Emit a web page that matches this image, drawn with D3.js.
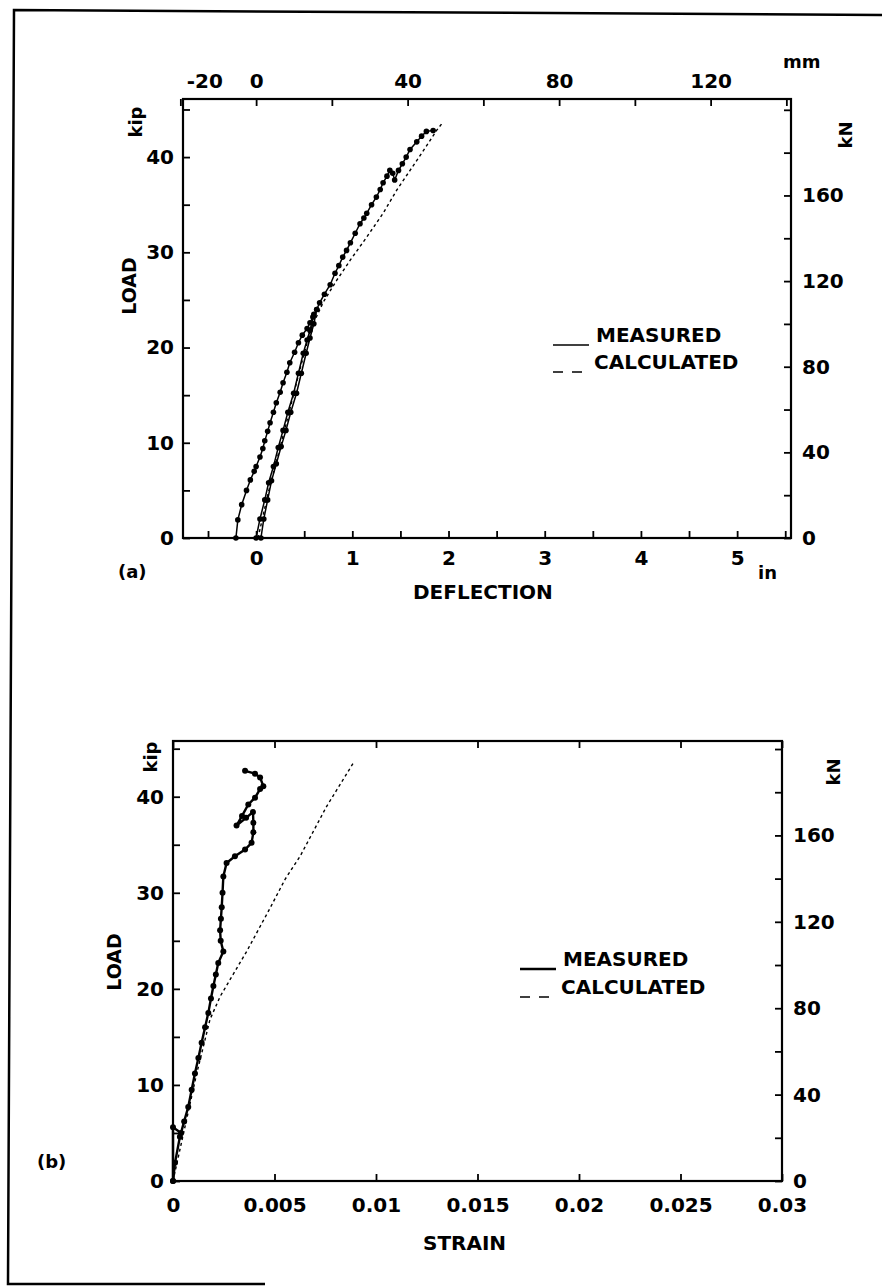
<!DOCTYPE html>
<html>
<head>
<meta charset="utf-8">
<script src="https://cdn.jsdelivr.net/npm/d3@7"></script>
<style>
  body { margin: 0; background: #fff; }
  svg { display: block; }
  text { font-family: 'DejaVu Sans', sans-serif; font-weight: bold; fill: #000; }
</style>
</head>
<body>
<svg id="fig" width="882" height="1286"></svg>
<script>
// data, load in kip

// (a) load vs deflection (in)
var deflMeasuredMain = [[-0.21,0],[-0.19,1.9],[-0.15,3.5],[-0.1,5],[-0.06,6.1],[-0.02,7],[0,7.5],[0.04,8.5],[0.07,9.4],[0.09,10.2],[0.12,11.2],[0.145,12.1],[0.18,13.2],[0.21,14.2],[0.25,15.3],[0.28,16.3],[0.32,17.4],[0.35,18.4],[0.4,19.5],[0.44,20.5],[0.48,21.3],[0.53,22],[0.56,22.6],[0.59,23.2],[0.63,24],[0.66,24.7],[0.71,25.6],[0.77,26.6],[0.82,27.8],[0.86,28.6],[0.9,29.5],[0.94,30.2],[0.98,31],[1.03,32],[1.08,33],[1.12,33.6],[1.15,34.1],[1.2,35],[1.25,35.8],[1.29,36.6],[1.32,37.3],[1.36,38],[1.39,38.6],[1.42,38.3],[1.44,37.6],[1.48,38.6],[1.52,39.3],[1.56,40],[1.6,40.8],[1.67,41.6],[1.72,42.2],[1.77,42.7],[1.84,42.8]];
var deflMeasuredUp = [[0.05,0],[0.08,2],[0.12,4],[0.16,6],[0.21,7.8],[0.26,9.6],[0.31,11.3],[0.36,13.2],[0.42,15.2],[0.47,17.3],[0.52,19.4],[0.56,21],[0.6,22.5],[0.63,24]];
var deflMeasuredDown = [[0,0],[0.04,2],[0.09,4],[0.13,5.8],[0.18,7.5],[0.23,9.5],[0.28,11.3],[0.33,13.2],[0.39,15.2],[0.44,17.3],[0.49,19.4],[0.53,20.8],[0.56,21.8],[0.6,23.5]];
var deflCalculated = [[0.02,0],[0.12,4.5],[0.3,11.5],[0.45,17.5],[0.57,22],[0.7,24.8],[0.84,27.1],[0.98,29.2],[1.15,31.6],[1.32,34.1],[1.46,36.5],[1.6,38.6],[1.74,40.7],[1.876,42.8],[1.945,43.7]];

// (b) load vs strain
var strainMeasured = [[0,0],[0.0001,1.9],[0.00034,4.6],[0.00055,6.2],[0.00075,7.7],[0.00092,9.5],[0.00108,11.2],[0.00125,12.8],[0.00141,14.4],[0.00158,16],[0.00174,17.5],[0.00187,19],[0.00199,20.3],[0.00211,21.5],[0.00223,22.7],[0.00248,23.9],[0.00235,25],[0.00232,26.1],[0.00236,27.3],[0.0024,28.5],[0.00244,30],[0.00248,31.7],[0.00264,33.1],[0.00305,33.8],[0.00355,34.5],[0.00387,35.2],[0.00396,36.3],[0.00396,37.3],[0.00394,38.4],[0.0036,37.8],[0.00313,37],[0.0034,38],[0.00371,39.2],[0.00404,39.9],[0.00429,40.8],[0.00445,41.1],[0.00429,42],[0.00404,42.4],[0.00355,42.7]];
var strainMeasuredSpur = [[0,0],[0,5.6],[0.0004,5]];
var strainCalculated = [[0,0],[0.00117,11.2],[0.00182,16.8],[0.00232,19.2],[0.00363,23.9],[0.00478,28.4],[0.00552,31.4],[0.00626,33.8],[0.00757,39],[0.00888,43.5]];

// ticks and labels
var loadTicks = [0,5,10,15,20,25,30,35,40,45];
var loadLabels = [0,10,20,30,40];
var kNTicks = [0,20,40,60,80,100,120,140,160,180,200];
var kNLabels = [0,40,80,120,160];
var inchTicks = [-0.5,0,0.5,1,1.5,2,2.5,3,3.5,4,4.5,5,5.5];
var inchLabels = [0,1,2,3,4,5];
var mmTicks = [-20,0,20,40,60,80,100,120,140];
var mmLabels = [-20,0,40,80,120];
var strainTicks = [0,0.005,0.01,0.015,0.02,0.025,0.03];
var strainLabels = ["0","0.005","0.01","0.015","0.02","0.025","0.03"];
var legendNames = ["MEASURED","CALCULATED"];

var KN_PER_KIP = 4.448;
var MM_PER_IN = 25.4;

var svg = d3.select("#fig");

// scanned page border
var border = d3.path();
border.moveTo(882, 15); border.lineTo(14, 10); border.lineTo(8, 1284); border.lineTo(265, 1284);
svg.append("path").attr("d", border.toString()).attr("fill", "none").attr("stroke", "#000").attr("stroke-width", 2.5);

function styleAxis(g, fontSize){
    g.select(".domain").remove();
    g.selectAll(".tick line").attr("stroke", "#000").attr("stroke-width", 1.8);
    g.selectAll(".tick text").attr("font-size", fontSize).attr("fill", "#000");
    g.attr("font-family", null);
}

function drawPanel(cfg){
    var x = d3.scaleLinear().domain(cfg.xDomain).range([cfg.left, cfg.right]);
    var y = d3.scaleLinear().domain(cfg.yDomain).range([cfg.bottom, cfg.top]);
    var yKN = d3.scaleLinear().domain(cfg.yDomain.map(d => d * KN_PER_KIP)).range([cfg.bottom, cfg.top]);
    var g = svg.append("g");

    // frame
    g.append("rect")
        .attr("x", cfg.left).attr("y", cfg.top)
        .attr("width", cfg.right - cfg.left).attr("height", cfg.bottom - cfg.top)
        .attr("fill", "none").attr("stroke", "#000").attr("stroke-width", 2.2);

    // left: kip
    g.append("g").attr("transform", "translate(" + cfg.left + ",0)")
        .call(d3.axisLeft(y).tickValues(loadTicks).tickSizeInner(-7).tickSizeOuter(0).tickPadding(9)
            .tickFormat(d => loadLabels.includes(d) ? d : ""))
        .call(s => styleAxis(s, 20));

    // right: kN
    g.append("g").attr("transform", "translate(" + cfg.right + ",0)")
        .call(d3.axisRight(yKN).tickValues(kNTicks).tickSizeInner(-7).tickSizeOuter(0).tickPadding(11)
            .tickFormat(d => kNLabels.includes(d) ? d : ""))
        .call(s => styleAxis(s, 20));

    // bottom
    g.append("g").attr("transform", "translate(0," + cfg.bottom + ")")
        .call(d3.axisBottom(x).tickValues(cfg.xTicks).tickSizeInner(-7).tickSizeOuter(0).tickPadding(cfg.xPad)
            .tickFormat(cfg.xFormat))
        .call(s => styleAxis(s, 20));

    // top
    var topAxis = g.append("g").attr("transform", "translate(0," + cfg.top + ")");
    if (cfg.mm) {
        var xmm = d3.scaleLinear().domain(cfg.xDomain.map(d => d * MM_PER_IN)).range([cfg.left, cfg.right]);
        topAxis.call(d3.axisTop(xmm).tickValues(mmTicks).tickSizeInner(-7).tickSizeOuter(0).tickPadding(11)
            .tickFormat(d => mmLabels.includes(d) ? d : ""))
            .call(s => styleAxis(s, 20));
        // the -20 label sits clear of the corner in the original
        topAxis.selectAll(".tick text").filter(d => d == -20).attr("dx", 24);
    } else {
        topAxis.call(d3.axisTop(x).tickValues(cfg.xTicks).tickSizeInner(-7).tickSizeOuter(0).tickFormat(""))
            .call(s => styleAxis(s, 20));
    }

    var line = d3.line().x(d => x(d[0])).y(d => y(d[1]));

    // calculated (dashed)
    g.append("path").datum(cfg.calculated).attr("d", line)
        .attr("fill", "none").attr("stroke", "#000").attr("stroke-width", 1.4).attr("stroke-dasharray", "3,3");

    // measured with dot markers
    cfg.measured.forEach(function(set){
        g.append("path").datum(set).attr("d", line)
            .attr("fill", "none").attr("stroke", "#000").attr("stroke-width", cfg.measuredWidth);
        g.selectAll(null).data(set).enter().append("circle")
            .attr("cx", d => x(d[0])).attr("cy", d => y(d[1]))
            .attr("r", cfg.dotR).attr("fill", "#000");
    });

    // legend
    var lg = cfg.legend;
    g.append("line").attr("x1", lg.x).attr("x2", lg.x + 36).attr("y1", lg.y1).attr("y2", lg.y1)
        .attr("stroke", "#000").attr("stroke-width", cfg.legendWidth);
    g.append("line").attr("x1", lg.x).attr("x2", lg.x + 33).attr("y1", lg.y2).attr("y2", lg.y2)
        .attr("stroke", "#000").attr("stroke-width", 1.5).attr("stroke-dasharray", "10,9");
    g.append("text").attr("x", lg.tx).attr("y", lg.y1 - 3).attr("font-size", 20).text(legendNames[0]);
    g.append("text").attr("x", lg.tx - 2).attr("y", lg.y2 - 3).attr("font-size", 20).text(legendNames[1]);

    // unit labels
    g.append("text").attr("transform", "translate(" + cfg.kip[0] + "," + cfg.kip[1] + ") rotate(-90)")
        .attr("text-anchor", "middle").attr("font-size", 18).text("kip");
    g.append("text").attr("transform", "translate(" + cfg.kN[0] + "," + cfg.kN[1] + ") rotate(-90)")
        .attr("text-anchor", "middle").attr("font-size", 18).text("kN");
    g.append("text").attr("transform", "translate(" + cfg.load[0] + "," + cfg.load[1] + ") rotate(-90)")
        .attr("text-anchor", "middle").attr("font-size", 19).text("LOAD");
    g.append("text").attr("x", cfg.title[0]).attr("y", cfg.title[1]).attr("font-size", 20).text(cfg.xTitle);
    g.append("text").attr("x", cfg.tag[0]).attr("y", cfg.tag[1]).attr("font-size", 18).text(cfg.tagText);

    return {x: x, y: y, g: g};
}

var panelA = drawPanel({
    left: 183, right: 791, top: 99, bottom: 538,
    xDomain: [-0.76, 5.56], yDomain: [0, 46.1],
    xTicks: inchTicks, xPad: 13,
    xFormat: d => inchLabels.includes(d) ? d : "",
    mm: true,
    measured: [deflMeasuredMain, deflMeasuredUp, deflMeasuredDown],
    calculated: deflCalculated,
    measuredWidth: 1.5, dotR: 2.8, legendWidth: 1.4,
    legend: {x: 553, tx: 596, y1: 345, y2: 372},
    kip: [142, 122], kN: [852, 135], load: [136, 286],
    xTitle: "DEFLECTION", title: [413, 599],
    tagText: "(a)", tag: [118, 578]
});
panelA.g.append("text").attr("x", 783).attr("y", 68).attr("font-size", 18).text("mm");
panelA.g.append("text").attr("x", 758).attr("y", 579).attr("font-size", 18).text("in");

drawPanel({
    left: 173, right: 782, top: 741, bottom: 1181,
    xDomain: [0, 0.03], yDomain: [0, 45.8],
    xTicks: strainTicks, xPad: 17,
    xFormat: (d, i) => strainLabels[i],
    mm: false,
    measured: [strainMeasured, strainMeasuredSpur],
    calculated: strainCalculated,
    measuredWidth: 2.4, dotR: 3, legendWidth: 2.6,
    legend: {x: 520, tx: 563, y1: 969, y2: 997},
    kip: [157, 757], kN: [840, 772], load: [121, 962],
    xTitle: "STRAIN", title: [423, 1250],
    tagText: "(b)", tag: [37, 1168]
});
</script>
</body>
</html>
